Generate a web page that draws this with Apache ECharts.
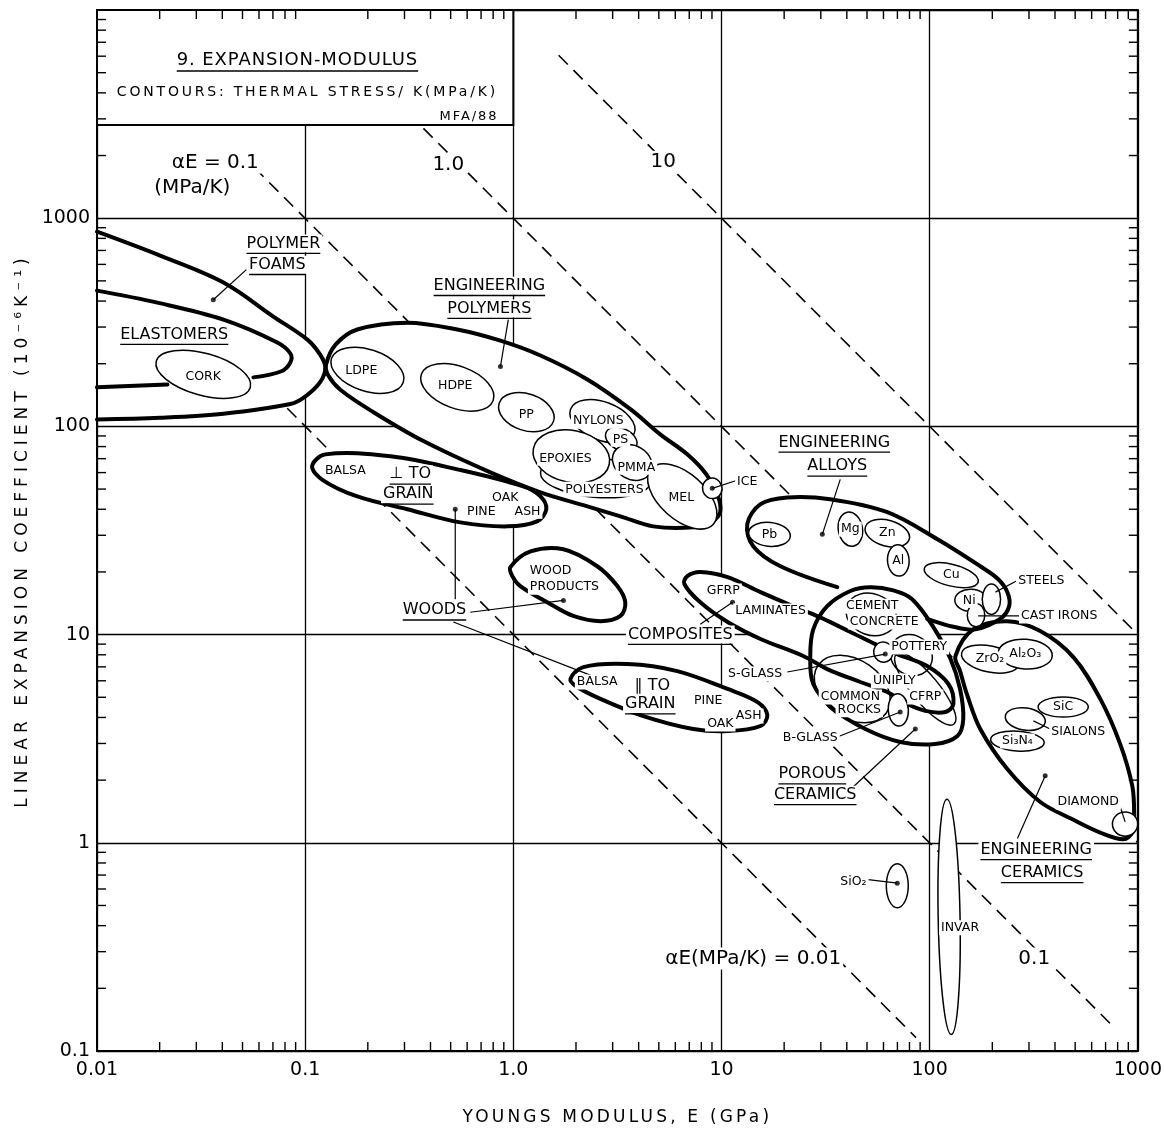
<!DOCTYPE html>
<html>
<head>
<meta charset="utf-8">
<title>9. EXPANSION-MODULUS</title>
<script src="https://cdn.jsdelivr.net/npm/echarts@6.0.0/dist/echarts.min.js"></script>
<style>
html, body { margin: 0; padding: 0; background: #fff; }
#main { width: 1165px; height: 1131px; }
</style>
</head>
<body>
<div id="main"></div>
<script>
var FONT = 'DejaVu Sans';

// axes (E in GPa, alpha in 10^-6/K)
var xTickValues = [0.01, 0.1, 1, 10, 100, 1000];
var xTickLabels = ['0.01', '0.1', '1.0', '10', '100', '1000'];
var yTickValues = [0.1, 1, 10, 100, 1000];
var yTickLabels = ['0.1', '1', '10', '100', '1000'];
var minorSteps = [2, 3, 4, 5, 6, 7, 8, 9];
var xDecades = [0.01, 0.1, 1, 10, 100];
var yDecades = [0.1, 1, 10, 100, 1000];
var xRange = [0.01, 1000];
var yRange = [0.1, 10000];

// thermal stress contours alpha*E (MPa/K) : end points [E, alpha]
var contourLines = [
	[[1.65, 6060], [1000, 10]],
	[[0.37, 2700], [1000, 1]],
	[[0.057, 1750], [780, 0.128]],
	[[0.0696, 144], [86, 0.116]]
];
var contourLabelTexts = ['αE = 0.1', '(MPa/K)', '1.0', '10', 'αE(MPa/K) = 0.01', '0.1'];
var contourLabelPlaces = [[0.037, 1845], [0.0287, 1400], [0.487, 1806], [5.25, 1866], [14.2, 0.278], [318, 0.278]];

// class envelopes, boundary points [E, alpha]
var foamsEdge = [[0.01, 861], [0.0201, 661], [0.0405, 491], [0.0703, 337], [0.1025, 261], [0.118, 221],
	[0.125, 192], [0.118, 163], [0.1, 139], [0.0849, 128], [0.0405, 115], [0.0201, 110], [0.01, 108]];
var elastomerUpper = [[0.01, 449], [0.0195, 393], [0.0405, 326], [0.0735, 253], [0.0849, 224],
	[0.0849, 203], [0.0769, 184], [0.0564, 172]];
var elastomerLower = [[0.01, 154], [0.0218, 159]];
var polymersEdge = [[0.126, 198], [0.14, 247], [0.178, 292], [0.31, 315], [0.538, 292], [0.867, 258],
	[1.35, 219], [2.27, 168], [3.65, 121], [5.08, 91.6], [6.85, 73.4], [8.45, 58.9], [9.55, 47.2],
	[9.87, 39.1], [9.03, 35.0], [7.32, 32.8], [4.70, 33.1], [3.27, 37.0], [2.27, 41.3], [1.35, 48.2],
	[0.776, 60.1], [0.37, 85.0], [0.213, 117], [0.1476, 150], [0.129, 176]];
var woodsAcrossEdge = [[0.108, 64.3], [0.125, 73.4], [0.257, 71.8], [0.538, 62.2], [1.117, 51.5],
	[1.35, 46.1], [1.44, 40.0], [1.30, 35.0], [0.936, 33.1], [0.556, 34.6], [0.31, 40.0], [0.178, 46.1],
	[0.122, 55.1]];
var woodProductsEdge = [[0.968, 21.1], [1.21, 25.1], [1.74, 25.7], [2.53, 21.3], [3.16, 17.1], [3.45, 14.3],
	[3.27, 12.3], [2.62, 11.6], [1.94, 12.3], [1.51, 14.0], [1.08, 17.1], [0.989, 19.1]];
var woodsAlongEdge = [[1.88, 6.12], [2.17, 6.98], [3.53, 7.22], [6.13, 6.68], [10.7, 5.48], [14.9, 4.74],
	[16.6, 4.11], [15.4, 3.64], [10.7, 3.44], [7.32, 3.52], [4.21, 4.06], [2.62, 4.91], [2.03, 5.60]];
var compositesEdge = [[6.85, 19.1], [7.91, 20.0], [10.7, 18.9], [15.4, 16.0], [22.1, 13.7], [29.8, 12.1],
	[41.6, 10.3], [54.8, 9.0], [69.9, 8.06], [97.3, 7.06], [123, 5.79], [130, 4.64], [119, 4.25],
	[95.3, 4.30], [76.4, 4.69], [62.6, 5.30], [46.4, 5.92], [32.2, 6.83], [24.7, 7.89], [15.4, 9.53],
	[10.7, 11.5], [7.91, 14.3], [6.63, 17.5]];
var alloysEdge = [[36.0, 16.9], [19.2, 21.3], [14.2, 26.6], [13.3, 33.9], [15.4, 42.3], [20.7, 45.6],
	[33.3, 44.7], [62.6, 38.7], [109, 28.7], [175, 21.3], [213, 18.5], [236, 16.0], [241, 13.7],
	[218, 11.9], [166, 10.6], [130, 10.9], [97.3, 11.9]];
var porousEdge = [[26.7, 7.89], [27.6, 10.6], [32.2, 13.7], [41.6, 16.2], [51.8, 16.9], [66.9, 16.3],
	[82.4, 14.8], [104, 10.9], [126, 7.63], [140, 5.48], [145, 3.93], [136, 3.26], [106, 2.98],
	[72.2, 3.05], [49.1, 3.52], [34.4, 4.39], [27.6, 5.79]];
var ceramicsEdge = [[133, 7.89], [162, 10.6], [236, 11.6], [340, 10.4], [490, 7.80], [660, 4.91],
	[823, 2.98], [940, 1.88], [960, 1.39], [940, 1.12], [851, 1.04], [660, 1.12], [490, 1.29],
	[340, 1.57], [236, 2.26], [175, 3.52], [152, 5.07], [140, 6.68]];

// single materials: centre [E, alpha], end of long axis [E, alpha], short/long ratio
var ellipseNames = ['CORK', 'LDPE', 'HDPE', 'PP', 'POLYESTERS', 'NYLONS', 'EPOXIES', 'PS', 'PMMA', 'MEL',
	'ICE', 'Pb', 'Mg', 'Zn', 'Al', 'Cu', 'Ni', 'STEELS', 'CAST IRONS', 'CEMENT CONCRETE', 'COMMON ROCKS',
	'UNIPLY', 'POTTERY', 'S-GLASS', 'B-GLASS', 'ZrO2', 'Al2O3', 'SIALONS', 'SiC', 'Si3N4', 'DIAMOND',
	'SiO2', 'INVAR'];
var ellipseShapes = [
	[0.0324, 178, 0.0545, 154, 0.43],
	[0.199, 186, 0.296, 163, 0.55],
	[0.538, 154, 0.80, 133, 0.55],
	[1.155, 117, 1.56, 106, 0.64],
	[2.48, 56.9, 4.55, 53.8, 0.36],
	[2.68, 106, 3.81, 92.6, 0.56],
	[1.90, 71.8, 2.89, 65.8, 0.67],
	[3.30, 86.7, 3.90, 80.2, 0.65],
	[3.73, 67.1, 4.55, 59.6, 0.8],
	[6.48, 46.1, 9.14, 33.9, 0.55],
	[9.03, 50.4, 9.33, 45.2, 0.95],
	[17.0, 30.3, 21.4, 29.6, 0.57],
	[41.6, 32.1, 43.0, 26.6, 0.7],
	[62.6, 30.7, 79.8, 28.7, 0.57],
	[70.7, 22.7, 71.5, 19.1, 0.69],
	[127, 19.3, 171, 17.9, 0.39],
	[158, 14.6, 189, 14.5, 0.69],
	[198, 14.8, 198, 12.5, 0.6],
	[167, 12.4, 167, 10.9, 0.75],
	[52.4, 12.5, 68.4, 11.3, 0.8],
	[42.5, 5.48, 61.9, 4.20, 0.7],
	[95.3, 5.48, 131, 3.72, 0.3],
	[81.6, 7.97, 98.4, 6.83, 0.9],
	[59.9, 8.24, 61.2, 7.38, 0.95],
	[70.7, 4.35, 71.5, 3.64, 0.62],
	[195, 7.63, 267, 7.14, 0.45],
	[288, 8.06, 388, 7.89, 0.55],
	[288, 3.93, 359, 3.80, 0.55],
	[438, 4.49, 578, 4.49, 0.4],
	[264, 3.08, 355, 3.02, 0.37],
	[869, 1.23, 1000, 1.23, 0.95],
	[69.9, 0.622, 69.9, 0.488, 0.5],
	[124, 0.441, 127, 0.12, 0.093]
];
var hollowEllipses = ['CEMENT CONCRETE', 'COMMON ROCKS', 'UNIPLY', 'POTTERY'];

// leader lines and their dots
var pointerLines = [
	[[0.0522, 566], [0.0362, 406]],
	[[0.946, 326], [0.867, 194]],
	[[0.526, 40.0], [0.526, 14.8]],
	[[0.621, 12.8], [1.74, 14.6]],
	[[0.515, 11.5], [2.48, 6.25]],
	[[37.2, 55.7], [30.5, 30.3]],
	[[7.91, 11.2], [11.3, 14.3]],
	[[20.7, 6.61], [61.2, 8.06]],
	[[36.0, 3.22], [72.2, 4.25]],
	[[43.0, 1.86], [85.3, 3.52]],
	[[207, 16.0], [261, 18.1]],
	[[171, 12.3], [275, 12.3]],
	[[9.03, 50.4], [11.9, 55.1]],
	[[315, 3.85], [388, 3.48]],
	[[823, 1.49], [869, 1.26]],
	[[264, 1.05], [359, 2.10]],
	[[50.7, 0.665], [69.9, 0.640]]
];
var pointerDots = [[0.0362, 406], [0.867, 194], [0.526, 40.0], [1.74, 14.6], [30.5, 30.3], [11.3, 14.3],
	[61.2, 8.06], [72.2, 4.25], [85.3, 3.52], [9.03, 50.4], [359, 2.10], [69.9, 0.640]];

// class names (underlined) and material names
var classLabelTexts = ['POLYMER', 'FOAMS', 'ELASTOMERS', 'ENGINEERING', 'POLYMERS', '⊥ TO', 'GRAIN', 'WOODS',
	'ENGINEERING', 'ALLOYS', 'COMPOSITES', '∥ TO', 'GRAIN', 'POROUS', 'CERAMICS', 'ENGINEERING', 'CERAMICS'];
var classLabelPlaces = [[0.0786, 755], [0.0735, 598], [0.0235, 276], [0.767, 474], [0.767, 368], [0.32, 58.9],
	[0.313, 47.2], [0.418, 13.1], [34.8, 83.8], [36.0, 64.3], [6.34, 10.0], [4.65, 5.66], [4.55, 4.64],
	[27.3, 2.14], [28.2, 1.70], [325, 0.925], [347, 0.718]];
var materialLabelTexts = ['CORK', 'LDPE', 'HDPE', 'PP', 'NYLONS', 'PS', 'EPOXIES', 'PMMA', 'POLYESTERS', 'MEL',
	'ICE', 'BALSA', 'OAK', 'PINE', 'ASH', 'WOOD', 'PRODUCTS', 'GFRP', 'LAMINATES', 'BALSA', 'PINE', 'ASH', 'OAK',
	'Pb', 'Mg', 'Zn', 'Al', 'Cu', 'Ni', 'STEELS', 'CAST IRONS', 'CEMENT', 'CONCRETE', 'POTTERY', 'S-GLASS',
	'UNIPLY', 'COMMON', 'ROCKS', 'CFRP', 'B-GLASS', 'ZrO₂', 'Al₂O₃', 'SiC', 'SIALONS', 'Si₃N₄', 'DIAMOND',
	'SiO₂', 'INVAR'];
var materialLabelPlaces = [[0.0324, 174], [0.186, 186], [0.526, 157], [1.155, 114], [2.56, 106], [3.27, 86.7],
	[1.78, 70.3], [3.90, 63.6], [2.74, 49.9], [6.41, 45.2], [13.3, 54.5], [0.156, 61.5], [0.915, 45.6],
	[0.702, 39.1], [1.17, 39.1], [1.51, 20.2], [1.76, 16.9], [10.2, 16.2], [17.2, 13.0], [2.53, 5.92],
	[8.64, 4.80], [13.5, 4.06], [9.87, 3.72], [17.0, 30.3], [41.6, 32.1], [62.6, 30.7], [70.7, 22.7],
	[127, 19.3], [155, 14.6], [344, 18.1], [419, 12.3], [53.0, 13.7], [60.5, 11.5], [89.1, 8.71],
	[14.5, 6.47], [67.6, 5.99], [41.6, 5.01], [45.9, 4.35], [95.3, 5.01], [26.7, 3.19], [195, 7.63],
	[288, 8.06], [438, 4.49], [517, 3.41], [264, 3.08], [578, 1.57], [43.0, 0.650], [140, 0.391]];

// title box
var titleBox = [[0.01, 10000], [1, 2800]];
var titleTexts = ['9. EXPANSION-MODULUS', 'CONTOURS: THERMAL STRESS/ K(MPa/K)', 'MFA/88'];
var titlePlaces = [[0.0918, 5750], [0.1025, 4000], [0.847, 3070]];

var xName = 'YOUNGS MODULUS, E (GPa)';
var yName = 'LINEAR EXPANSION COEFFICIENT (10⁻⁶K⁻¹)';

// wide lettering of the original drawing, only for these strings
var letterSpacing = {};
letterSpacing[xName] = 3.2;
letterSpacing[yName] = 5;
letterSpacing[titleTexts[0]] = 0.9;
letterSpacing[titleTexts[1]] = 2.8;
letterSpacing[titleTexts[2]] = 1.9;

var baseFillText = CanvasRenderingContext2D.prototype.fillText;
CanvasRenderingContext2D.prototype.fillText = function(text) {
	var sp = letterSpacing[text];
	if (sp && 'letterSpacing' in this) {
		var font = this.font;
		this.letterSpacing = sp + 'px';
		this.font = font;
		baseFillText.apply(this, arguments);
		this.letterSpacing = '0px';
		this.font = font;
		return;
	}
	return baseFillText.apply(this, arguments);
};

var measureCtx = document.createElement('canvas').getContext('2d');
function textWidth(text, size) {
	measureCtx.font = size + 'px "' + FONT + '"';
	return measureCtx.measureText(text).width + (letterSpacing[text] || 0) * text.length;
}

function tickText(values, labels) {
	return function(v) {
		for (var i = 0; i < values.length; i++) {
			if (Math.abs(Math.log10(v) - Math.log10(values[i])) < 1e-6) {
				return labels[i];
			}
		}
		return '';
	};
}

function toPixels(api, pts) {
	return pts.map(function(p) {
		return api.coord(p);
	});
}

// shapes closed along the left border must not bulge over the 100 grid line
var borderShapes = [foamsEdge];
function boxOf(pts) {
	var min = [ Infinity, Infinity ], max = [ -Infinity, -Infinity ];
	pts.forEach(function(p) {
		min[0] = Math.min(min[0], p[0]);
		min[1] = Math.min(min[1], p[1]);
		max[0] = Math.max(max[0], p[0]);
		max[1] = Math.max(max[1], p[1]);
	});
	return [ min, max ];
}

function labelSeries(texts, places, size, underline) {
	return {
		type : 'custom',
		z : 6,
		silent : true,
		data : places,
		renderItem : function(params, api) {
			var t = texts[params.dataIndex];
			var p = api.coord(places[params.dataIndex]);
			var children = [ {
				type : 'text',
				style : {
					text : t,
					x : p[0],
					y : p[1],
					fontSize : size,
					fontFamily : FONT,
					fill : '#000',
					align : 'center',
					verticalAlign : 'middle',
					backgroundColor : '#fff',
					padding : [ 1, 2 ]
				}
			} ];
			if (underline) {
				var w = textWidth(t, size);
				var uy = p[1] + size * 0.55 + 1;
				children.push({
					type : 'line',
					shape : { x1 : p[0] - w / 2, y1 : uy, x2 : p[0] + w / 2, y2 : uy },
					style : { stroke : '#000', lineWidth : 1.3 }
				});
			}
			return { type : 'group', children : children };
		}
	};
}

var fillShapes = [foamsEdge, polymersEdge, woodsAcrossEdge, woodProductsEdge, woodsAlongEdge,
	compositesEdge, alloysEdge, porousEdge, ceramicsEdge];
var outlineShapes = [
	{ pts : foamsEdge, closed : false },
	{ pts : elastomerUpper, closed : false },
	{ pts : elastomerLower, closed : false },
	{ pts : polymersEdge, closed : true },
	{ pts : woodsAcrossEdge, closed : true },
	{ pts : woodProductsEdge, closed : true },
	{ pts : woodsAlongEdge, closed : true },
	{ pts : compositesEdge, closed : true },
	{ pts : alloysEdge, closed : false },
	{ pts : porousEdge, closed : true },
	{ pts : ceramicsEdge, closed : true }
];

var series = [];

contourLines.forEach(function(line) {
	series.push({
		type : 'line',
		z : 1,
		silent : true,
		symbol : 'none',
		data : line,
		lineStyle : { color : '#000', width : 1.6, type : [ 13, 8 ] }
	});
});

series.push({
	type : 'custom',
	z : 2,
	silent : true,
	data : fillShapes.map(function(s) { return s[0]; }),
	renderItem : function(params, api) {
		var shape = fillShapes[params.dataIndex];
		var pts = toPixels(api, shape);
		var poly = { points : pts, smooth : 0.35 };
		if (borderShapes.indexOf(shape) >= 0) {
			poly.smoothConstraint = boxOf(pts);
		}
		return {
			type : 'polygon',
			shape : poly,
			style : { fill : '#fff' }
		};
	}
});

series.push({
	type : 'custom',
	z : 3,
	silent : true,
	data : outlineShapes.map(function(s) { return s.pts[0]; }),
	renderItem : function(params, api) {
		var o = outlineShapes[params.dataIndex];
		return {
			type : o.closed ? 'polygon' : 'polyline',
			shape : { points : toPixels(api, o.pts), smooth : 0.35 },
			style : { fill : 'none', stroke : '#000', lineWidth : 4, lineJoin : 'round', lineCap : 'round' }
		};
	}
});

series.push({
	type : 'custom',
	z : 4,
	silent : true,
	data : ellipseShapes.map(function(e) { return [ e[0], e[1] ]; }),
	renderItem : function(params, api) {
		var e = ellipseShapes[params.dataIndex];
		var c = api.coord([ e[0], e[1] ]);
		var a = api.coord([ e[2], e[3] ]);
		var dx = a[0] - c[0], dy = a[1] - c[1];
		var rx = Math.sqrt(dx * dx + dy * dy);
		var hollow = hollowEllipses.indexOf(ellipseNames[params.dataIndex]) >= 0;
		return {
			type : 'ellipse',
			x : c[0],
			y : c[1],
			rotation : -Math.atan2(dy, dx),
			shape : { cx : 0, cy : 0, rx : rx, ry : rx * e[4] },
			style : { fill : hollow ? 'none' : '#fff', stroke : '#000', lineWidth : 1.5 }
		};
	}
});

series.push({
	type : 'custom',
	z : 5,
	silent : true,
	data : pointerLines.map(function(l) { return l[0]; }),
	renderItem : function(params, api) {
		var l = pointerLines[params.dataIndex];
		var a = api.coord(l[0]), b = api.coord(l[1]);
		return {
			type : 'line',
			shape : { x1 : a[0], y1 : a[1], x2 : b[0], y2 : b[1] },
			style : { stroke : '#000', lineWidth : 1.2 }
		};
	}
});

series.push({
	type : 'scatter',
	z : 5,
	silent : true,
	symbolSize : 5,
	itemStyle : { color : '#000' },
	data : pointerDots
});

series.push(labelSeries(classLabelTexts, classLabelPlaces, 16, true));
series.push(labelSeries(materialLabelTexts, materialLabelPlaces, 12.5, false));
series.push(labelSeries(contourLabelTexts, contourLabelPlaces, 20, false));

// title box
series.push({
	type : 'custom',
	z : 7,
	silent : true,
	data : [ titleBox[0] ],
	renderItem : function(params, api) {
		var p0 = api.coord(titleBox[0]), p1 = api.coord(titleBox[1]);
		var sizes = [ 18, 14, 13 ];
		var aligns = [ 'center', 'center', 'right' ];
		var children = [ {
			type : 'rect',
			shape : { x : p0[0], y : p0[1], width : p1[0] - p0[0], height : p1[1] - p0[1] },
			style : { fill : '#fff', stroke : '#000', lineWidth : 2 }
		} ];
		titleTexts.forEach(function(t, i) {
			var p = api.coord(titlePlaces[i]);
			children.push({
				type : 'text',
				style : {
					text : t, x : p[0], y : p[1], fontSize : sizes[i], fontFamily : FONT, fill : '#000',
					align : aligns[i], verticalAlign : 'middle'
				}
			});
		});
		var tp = api.coord(titlePlaces[0]);
		var w = textWidth(titleTexts[0], sizes[0]);
		children.push({
			type : 'line',
			shape : { x1 : tp[0] - w / 2, y1 : tp[1] + 11, x2 : tp[0] + w / 2, y2 : tp[1] + 11 },
			style : { stroke : '#000', lineWidth : 1.4 }
		});
		return { type : 'group', children : children };
	}
});

// frame and minor ticks on all four sides
series.push({
	type : 'custom',
	z : 8,
	silent : true,
	data : [ [ 1, 1 ] ],
	renderItem : function(params, api) {
		var L = 9;
		var tl = api.coord([ xRange[0], yRange[1] ]), br = api.coord([ xRange[1], yRange[0] ]);
		var children = [ {
			type : 'rect',
			shape : { x : tl[0], y : tl[1], width : br[0] - tl[0], height : br[1] - tl[1] },
			style : { fill : 'none', stroke : '#000', lineWidth : 2 }
		} ];
		function tick(x1, y1, x2, y2) {
			children.push({
				type : 'line',
				shape : { x1 : x1, y1 : y1, x2 : x2, y2 : y2 },
				style : { stroke : '#000', lineWidth : 1.4 }
			});
		}
		xDecades.forEach(function(d) {
			minorSteps.forEach(function(s) {
				var x = api.coord([ d * s, 1 ])[0];
				tick(x, br[1], x, br[1] - L);
				tick(x, tl[1], x, tl[1] + L);
			});
		});
		yDecades.forEach(function(d) {
			minorSteps.forEach(function(s) {
				var y = api.coord([ 1, d * s ])[1];
				tick(tl[0], y, tl[0] + L, y);
				tick(br[0], y, br[0] - L, y);
			});
		});
		return { type : 'group', children : children };
	}
});

var option = {
	animation : false,
	backgroundColor : '#fff',
	grid : { left : 97, right : 25, top : 10, bottom : 78 },
	xAxis : {
		type : 'log',
		logBase : 10,
		min : xRange[0],
		max : xRange[1],
		splitNumber : 5,
		name : xName,
		nameLocation : 'middle',
		nameGap : 58,
		nameTextStyle : { fontFamily : FONT, fontSize : 17, color : '#000' },
		axisLine : { show : false },
		axisTick : { show : false },
		axisLabel : {
			formatter : tickText(xTickValues, xTickLabels),
			fontFamily : FONT,
			fontSize : 19,
			color : '#000',
			margin : 10
		},
		splitLine : { show : true, lineStyle : { color : '#000', width : 1.3 } }
	},
	yAxis : {
		type : 'log',
		logBase : 10,
		min : yRange[0],
		max : yRange[1],
		splitNumber : 5,
		name : yName,
		nameLocation : 'middle',
		nameRotate : 90,
		nameGap : 66,
		nameTextStyle : { fontFamily : FONT, fontSize : 17, color : '#000' },
		axisLine : { show : false },
		axisTick : { show : false },
		axisLabel : {
			formatter : tickText(yTickValues, yTickLabels),
			fontFamily : FONT,
			fontSize : 19,
			color : '#000',
			margin : 7
		},
		splitLine : { show : true, lineStyle : { color : '#000', width : 1.3 } }
	},
	series : series
};

var myChart = echarts.init(document.getElementById('main'));
myChart.setOption(option);
</script>
</body>
</html>
